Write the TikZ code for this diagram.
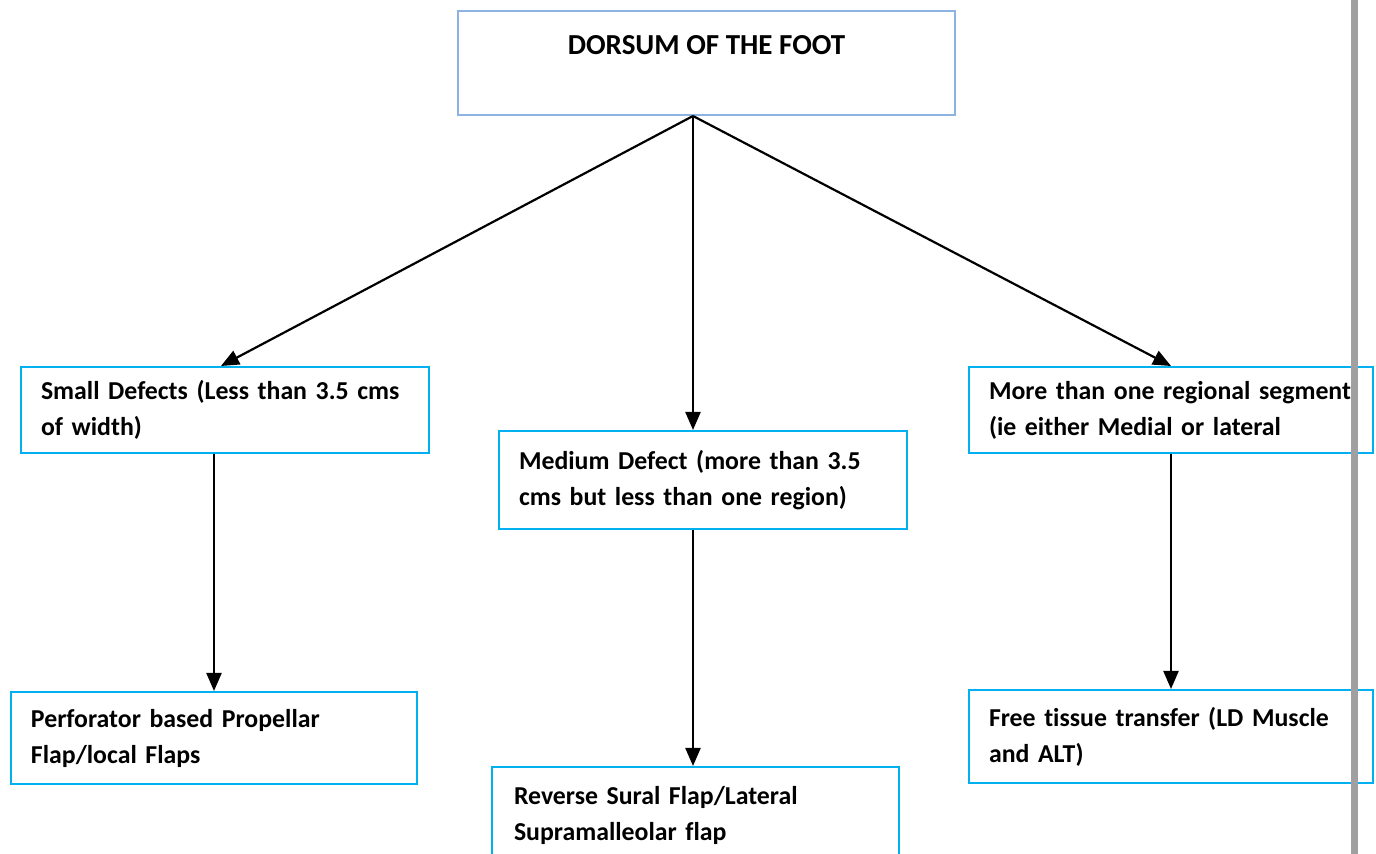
\documentclass[tikz,border=0pt]{standalone}
\usepackage{fontspec}
\setmainfont{Carlito}[Ligatures=NoCommon]
\usetikzlibrary{arrows.meta}
\definecolor{boxblue}{HTML}{00B0F0}
\definecolor{topblue}{HTML}{8DB3E2}
\definecolor{bargray}{HTML}{A0A0A0}
\begin{document}
\begin{tikzpicture}[x=0.5pt,y=-0.5pt,
  box/.style={draw=boxblue, line width=1pt, anchor=north west, inner xsep=10pt, inner ysep=0pt,
    align=left, font=\fontsize{12.9}{18}\selectfont\bfseries},
  topbox/.style={draw=topblue, line width=1pt, anchor=north west, inner sep=0pt,
    align=center, font=\fontsize{14.5}{18}\selectfont\bfseries},
  arr/.style={-{Triangle[width=7.5pt,length=9pt]}, line width=1.1pt}]
\useasboundingbox (0,0) rectangle (1376,854);

\node[topbox, minimum width=248.5pt, minimum height=52pt] (top) at (457,10)
  {DORSUM OF THE FOOT\\\mbox{}};

\node[box, text width=184pt, minimum height=43pt] (small) at (20,366)
  {\mbox{Small Defects (Less than 3.5 cms}\\\mbox{of width)}};
\node[box, text width=184pt, minimum height=49pt] (mid) at (498,430)
  {\mbox{Medium Defect (more than 3.5}\\\mbox{cms but less than one region)}};
\node[box, text width=182pt, minimum height=43pt] (right) at (968,366)
  {\mbox{More than one regional segment}\\\mbox{(ie either Medial or lateral}};

\node[box, text width=183pt, minimum height=46pt] (bl) at (10,691)
  {\mbox{Perforator based Propellar}\\\mbox{Flap/local Flaps}};
\node[box, text width=181.5pt, minimum height=48pt, inner xsep=11pt] (bm) at (491,766)
  {\mbox{Reverse Sural Flap/Lateral}\\\mbox{Supramalleolar flap}};
\node[box, text width=182pt, minimum height=46.5pt] (br) at (968,689)
  {\mbox{Free tissue transfer (LD Muscle}\\\mbox{and ALT)}};

\coordinate (o) at ([xshift=-6.75pt]top.south);

\draw[arr] (o) -- ([xshift=-2pt]small.north);
\draw[arr] (o) -- (o |- mid.north);
\draw[arr] (o) -- (right.north);

\draw[arr] (small.south -| bl.north) -- (bl.north);
\draw[arr] (mid.south -| o) -- (o |- bm.north);
\draw[arr] (right.south) -- (br.north);

\fill[bargray] (1351,0) rectangle (1358,854);
\end{tikzpicture}
\end{document}
